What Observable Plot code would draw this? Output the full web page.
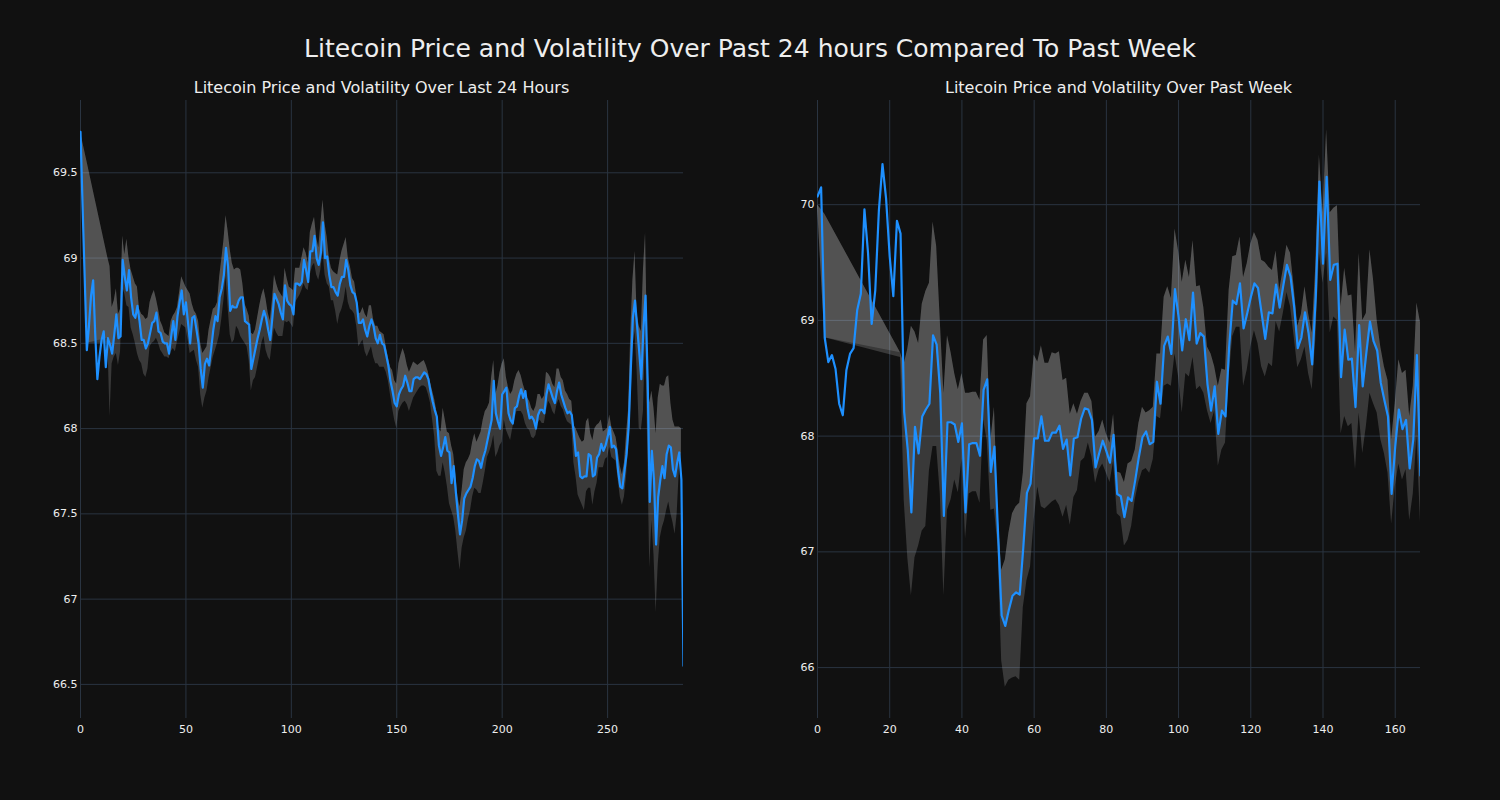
<!DOCTYPE html>
<html><head><meta charset="utf-8">
<script src="https://cdn.jsdelivr.net/npm/d3@7"></script>
<script src="https://cdn.jsdelivr.net/npm/@observablehq/plot@0.6"></script>
<style>
html,body{margin:0;padding:0;background:#111111;}
#wrap{position:relative;width:1500px;height:800px;background:#111111;font-family:"DejaVu Sans",sans-serif;color:#eeeeee;overflow:hidden;}
#title{position:absolute;left:0;top:34px;width:1500px;text-align:center;font-size:25px;line-height:30px;white-space:nowrap;}
.sub{position:absolute;top:78px;font-size:16px;line-height:20px;text-align:center;white-space:nowrap;}
.chart{position:absolute;top:80px;}
</style></head>
<body><div id="wrap">
<div id="title"></div>
<div class="sub" id="subL" style="left:80px;width:603px"></div>
<div class="sub" id="subR" style="left:817px;width:603px"></div>
<div class="chart" id="left" style="left:0px"></div>
<div class="chart" id="right" style="left:737px"></div>
</div>
<script>
const mainTitle = "Litecoin Price and Volatility Over Past 24 hours Compared To Past Week";
const leftTitle = "Litecoin Price and Volatility Over Last 24 Hours";
const rightTitle = "Litecoin Price and Volatility Over Past Week";

const xTicksLeft = [0, 50, 100, 150, 200, 250];
const yTicksLeft = [66.5, 67, 67.5, 68, 68.5, 69, 69.5];
const xTicksRight = [0, 20, 40, 60, 80, 100, 120, 140, 160];
const yTicksRight = [66, 67, 68, 69, 70];

// Last 24 hours (5-minute steps)
const priceLeft = [
69.74,69.3,68.88,68.46,68.6,68.78,68.87,68.55,68.29,68.42,
68.52,68.57,68.36,68.53,68.49,68.44,68.55,68.67,68.53,68.54,
68.99,68.89,68.81,68.93,68.77,68.67,68.65,68.72,68.63,68.52,
68.52,68.47,68.5,68.56,68.62,68.63,68.68,68.57,68.56,68.51,
68.5,68.5,68.44,68.54,68.63,68.52,68.66,68.74,68.81,68.67,
68.74,68.62,68.5,68.65,68.66,68.58,68.5,68.35,68.24,68.38,
68.41,68.37,68.47,68.58,68.66,68.63,68.77,68.82,68.9,69.06,
68.95,68.69,68.72,68.71,68.71,68.75,68.77,68.77,68.63,68.62,
68.61,68.35,68.41,68.47,68.53,68.58,68.64,68.69,68.65,68.58,
68.52,68.65,68.79,68.76,68.73,68.68,68.64,68.84,68.75,68.73,
68.72,68.67,68.85,68.85,68.84,68.86,68.99,68.93,68.86,69.04,
69.04,69.13,69.0,68.96,69.03,69.21,69.0,69.01,68.9,68.83,
68.83,68.8,68.78,68.85,68.89,68.89,68.99,68.93,68.84,68.8,
68.79,68.74,68.62,68.62,68.64,68.58,68.54,68.6,68.64,68.6,
68.53,68.5,68.55,68.5,68.49,68.43,68.37,68.28,68.22,68.15,
68.13,68.2,68.23,68.25,68.31,68.27,68.22,68.22,68.29,68.3,
68.3,68.29,68.31,68.33,68.32,68.29,68.22,68.16,68.11,68.07,
67.9,67.84,67.89,67.95,67.87,67.86,67.68,67.78,67.63,67.5,
67.38,67.46,67.59,67.62,67.64,67.66,67.71,67.78,67.82,67.81,
67.77,67.83,67.87,67.93,67.99,68.05,68.28,68.09,68.04,68.0,
68.2,68.22,68.24,68.09,68.05,68.03,68.12,68.13,68.19,68.23,
68.18,68.22,68.12,68.06,68.07,68.05,68.0,68.08,68.11,68.11,
68.09,68.2,68.26,68.22,68.18,68.15,68.22,68.27,68.2,68.16,
68.12,68.09,68.1,68.08,67.97,67.84,67.86,67.72,67.71,67.72,
67.72,67.85,67.84,67.72,67.73,67.83,67.85,67.91,67.87,67.9,
67.95,68.01,67.89,67.9,67.88,67.75,67.66,67.65,67.75,67.85,
68.01,68.35,68.65,68.75,68.6,68.45,68.29,68.59,68.78,68.28,
67.57,67.87,67.7,67.32,67.6,67.7,67.78,67.71,67.85,67.9,
67.89,67.76,67.72,67.8,67.86,67.7,66.61];

const bandLeftLo = [
69.71,null,null,68.5,null,null,null,null,null,null,
null,null,null,68.5,68.07,68.38,68.42,68.44,68.37,68.45,
68.83,68.79,68.72,68.71,68.59,68.55,68.5,68.44,68.4,68.38,
68.32,68.3,68.35,68.48,68.5,68.51,68.53,68.5,68.46,68.44,
68.42,68.42,68.41,68.45,68.47,68.45,68.51,68.56,68.61,68.6,
68.59,68.52,68.44,68.45,68.46,68.4,68.36,68.2,68.12,68.18,
68.22,68.3,68.36,68.42,68.46,68.5,68.55,68.64,68.75,68.89,
68.71,68.55,68.5,68.52,68.6,68.58,68.54,68.52,68.5,68.48,
68.4,68.22,68.28,68.3,68.36,68.42,68.5,68.54,68.46,68.42,
68.4,68.5,68.59,68.56,68.54,68.54,68.54,68.63,68.62,68.63,
68.61,68.59,68.74,68.76,68.78,68.81,68.85,68.82,68.81,68.9,
68.95,68.97,68.9,68.87,68.93,69.04,68.9,68.85,68.83,68.75,
68.75,68.69,68.61,68.67,68.7,68.75,68.83,68.74,68.7,68.69,
68.67,68.6,68.48,68.5,68.52,68.45,68.42,68.45,68.48,68.42,
68.38,68.38,68.36,68.36,68.36,68.33,68.28,68.2,68.12,68.05,
68.0,68.1,68.13,68.15,68.16,68.14,68.1,68.14,68.18,68.2,
68.22,68.24,68.25,68.25,68.24,68.2,68.15,68.05,67.95,67.75,
67.72,67.72,67.8,67.74,67.66,67.56,67.52,67.48,67.4,67.28,
67.17,67.3,67.36,67.4,67.47,67.52,67.6,67.65,67.64,67.62,
67.62,67.68,67.75,67.83,67.86,67.9,67.96,67.83,67.86,67.9,
67.92,68.05,67.99,67.96,67.93,68.0,68.05,68.1,68.1,68.1,
68.08,68.03,68.0,67.99,67.95,67.94,67.96,68.03,68.05,68.03,
68.03,68.1,68.16,68.14,68.1,68.08,68.14,68.17,68.13,68.11,
68.07,68.04,68.03,68.02,67.8,67.72,67.61,67.58,67.55,67.52,
67.63,67.65,67.65,67.55,67.63,67.68,67.77,67.77,67.77,67.82,
67.83,67.89,67.83,67.82,67.81,67.7,67.6,67.55,67.6,67.72,
67.91,68.12,68.48,68.57,68.34,68.0,67.99,68.1,68.54,67.89,
67.18,67.46,67.26,66.92,67.2,67.36,67.42,67.46,67.52,67.57,
67.5,67.45,67.38,67.5,67.75,67.85,null];

const bandLeftHi = [
69.74,null,null,69.57,null,null,null,null,null,null,
null,null,null,69.0,68.95,68.71,68.75,68.82,68.67,68.7,
69.13,69.02,69.11,69.0,68.93,68.89,68.85,68.83,68.7,68.67,
68.66,68.64,68.65,68.74,68.78,68.81,68.76,68.7,68.63,68.6,
68.56,68.55,68.54,68.63,68.66,68.68,68.71,68.8,68.89,68.86,
68.83,68.81,68.79,68.73,68.69,68.67,68.63,68.5,68.44,68.46,
68.48,68.58,68.64,68.7,68.71,68.74,68.89,68.99,69.1,69.25,
69.16,69.05,68.97,68.93,68.94,68.94,68.93,68.85,68.73,68.7,
68.66,68.56,68.55,68.58,68.65,68.72,68.78,68.82,68.76,68.68,
68.63,68.75,68.9,68.85,68.81,68.79,68.77,68.94,68.88,68.83,
68.82,68.81,68.94,68.94,68.94,69.0,69.06,69.03,68.97,69.15,
69.2,69.24,69.12,69.06,69.2,69.34,69.2,69.12,69.0,68.94,
68.92,68.91,68.9,68.98,69.04,69.08,69.12,69.0,68.95,68.88,
68.86,68.78,68.67,68.68,68.71,68.67,68.65,68.72,68.72,68.64,
68.6,68.6,68.57,68.56,68.55,68.48,68.42,68.36,68.34,68.28,
68.26,68.38,68.43,68.47,68.43,68.37,68.33,68.36,68.39,68.38,
68.37,68.38,68.39,68.4,68.37,68.33,68.27,68.22,68.17,68.1,
68.0,67.98,68.12,68.05,67.98,67.97,67.9,67.85,67.73,67.6,
67.54,67.64,67.76,67.8,67.82,67.85,67.92,67.97,67.92,67.95,
67.98,68.05,68.1,68.12,68.15,68.3,68.4,68.2,68.25,68.33,
68.38,68.41,68.3,68.24,68.2,68.22,68.28,68.32,68.34,68.31,
68.26,68.22,68.18,68.16,68.12,68.1,68.13,68.2,68.2,68.17,
68.19,68.33,68.32,68.3,68.26,68.24,68.35,68.35,68.3,68.28,
68.22,68.2,68.17,68.16,68.02,68.0,67.97,67.94,67.92,67.93,
68.04,68.06,67.97,67.93,68.0,68.02,68.03,68.05,67.98,67.99,
68.0,68.08,68.01,67.98,67.95,67.87,67.78,67.73,67.8,67.97,
68.12,68.57,68.87,69.04,68.67,68.6,68.57,68.93,69.15,68.44,
68.15,68.22,68.12,67.97,68.18,68.26,68.25,68.25,68.3,68.31,
68.15,68.05,68.01,68.01,68.01,68.0,null];

// Past week (hourly steps)
const priceRight = [
70.07,70.15,68.85,68.64,68.7,68.58,68.28,68.18,68.57,68.71,
68.76,69.09,69.23,69.96,69.58,68.97,69.26,69.95,70.35,70.05,
69.55,69.21,69.86,69.75,68.21,67.88,67.34,68.08,67.85,68.17,
68.23,68.28,68.87,68.79,68.37,67.31,68.12,68.12,68.1,67.95,
68.11,67.34,67.93,67.94,67.94,67.83,68.4,68.49,67.69,67.91,
67.16,66.45,66.36,66.5,66.62,66.65,66.63,67.04,67.51,67.59,
67.98,67.98,68.17,67.96,67.96,68.03,68.03,68.09,67.89,67.97,
67.66,67.98,67.99,68.15,68.24,68.23,68.14,67.73,67.85,67.96,
67.87,67.77,68.01,67.5,67.48,67.3,67.47,67.44,67.62,67.82,
67.99,68.04,67.93,67.95,68.47,68.28,68.78,68.86,68.71,69.27,
69.03,68.74,69.01,68.83,69.24,68.8,68.89,68.86,68.45,68.22,
68.43,68.02,68.22,68.17,68.77,69.17,69.14,69.32,68.93,69.06,
69.2,69.32,69.28,69.06,68.84,69.07,69.06,69.31,69.11,69.3,
69.48,69.38,69.12,68.76,68.85,69.07,68.89,68.62,69.21,70.2,
69.49,70.24,69.35,69.48,69.49,68.51,68.92,68.66,68.67,68.25,
68.96,68.43,68.72,68.99,68.82,68.74,68.46,68.31,68.17,67.5,
67.91,68.23,68.06,68.14,67.72,67.97,68.7,67.66];

const bandRightLo = [
69.98,null,68.85,null,null,null,null,null,null,null,
null,null,null,null,null,null,null,null,null,null,
null,null,null,68.68,67.45,66.95,66.62,66.95,67.05,67.18,
67.22,67.7,67.91,67.91,67.5,66.62,67.36,67.45,67.62,67.51,
67.8,67.11,67.5,67.52,67.52,67.42,68.14,67.96,67.36,67.37,
67.04,66.06,65.83,65.89,65.91,65.92,65.89,66.52,66.75,66.87,
67.27,67.56,67.39,67.37,67.4,67.43,67.45,67.4,67.3,67.4,
67.23,67.47,67.53,67.78,67.81,67.94,67.82,67.59,67.71,67.76,
67.68,67.6,67.78,67.33,67.3,67.05,67.1,67.22,67.45,67.6,
67.7,67.72,67.68,67.8,68.17,68.15,68.43,68.45,68.43,68.71,
68.51,68.2,68.54,68.51,68.68,68.4,68.43,68.37,68.22,68.11,
68.22,67.74,67.88,67.94,68.51,68.86,68.94,68.94,68.43,68.57,
68.77,68.91,68.8,68.6,68.51,68.63,68.6,68.99,68.9,69.06,
69.24,69.12,68.86,68.59,68.66,68.77,68.54,68.4,68.83,69.58,
69.32,69.58,68.89,69.03,69.0,68.02,68.17,68.08,68.11,67.71,
68.2,67.85,68.08,68.37,68.28,68.2,67.97,67.85,67.68,67.24,
67.56,67.76,67.62,67.71,67.27,67.5,68.0,67.25];

const bandRightHi = [
70.0,null,69.92,null,null,null,null,null,null,null,
null,null,null,null,null,null,null,null,null,null,
null,null,null,68.72,68.62,68.75,68.95,68.9,68.8,69.14,
69.25,69.32,69.85,69.64,69.0,68.37,68.87,68.72,68.54,68.4,
68.54,68.37,68.37,68.38,68.38,68.31,68.83,68.87,67.96,68.25,
67.33,66.84,66.93,67.16,67.33,67.39,67.42,67.68,68.28,68.34,
68.7,68.64,68.78,68.63,68.63,68.72,68.71,68.73,68.48,68.5,
68.19,68.28,68.19,68.3,68.37,68.37,68.3,67.99,68.04,68.14,
68.02,67.94,68.19,67.69,67.68,67.6,67.76,67.78,67.88,68.11,
68.25,68.2,68.22,68.25,68.71,68.71,69.2,69.29,69.19,69.79,
69.6,69.33,69.52,69.37,69.69,69.29,69.3,69.11,68.77,68.71,
68.6,68.43,68.58,68.57,69.26,69.55,69.56,69.72,69.37,69.49,
69.66,69.76,69.69,69.52,69.5,69.46,69.43,69.6,69.26,69.44,
69.65,69.58,69.29,68.95,69.05,69.29,69.06,68.89,69.47,70.43,
69.93,70.65,69.93,69.97,69.99,69.12,69.45,69.21,69.22,68.72,
69.58,69.0,69.06,69.61,69.35,69.0,68.77,68.6,68.48,67.97,
68.28,68.66,68.54,68.57,68.17,68.43,69.15,68.98];

document.getElementById("title").textContent = mainTitle;
document.getElementById("subL").textContent = leftTitle;
document.getElementById("subR").textContent = rightTitle;

const GRID = "#2a3441";
const LINE = "#1e90ff";

function makeChart(price, lo, hi, xMax, yDomain, xTicks, yTicks) {
  const rows = price.map((p, i) => ({i, p}));
  const band = price.map((p, i) => {
    if (lo[i] == null || hi[i] == null) return null;
    const mid = Math.max(lo[i], Math.min(hi[i], p));
    return {i, lo: lo[i], hi: hi[i], mid};
  }).filter(d => d != null);
  return Plot.plot({
    width: 720,
    height: 680,
    marginLeft: 80,
    marginRight: 37,
    marginTop: 20,
    marginBottom: 42,
    style: {background: "transparent", color: "#eeeeee", fontFamily: "DejaVu Sans", fontSize: "11px"},
    x: {domain: [0, xMax], ticks: xTicks, tickSize: 0, tickPadding: 7, label: null, tickFormat: d => String(d)},
    y: {domain: yDomain, ticks: yTicks, tickSize: 0, tickPadding: 3, label: null, tickFormat: d => String(d)},
    marks: [
      Plot.gridX(xTicks, {stroke: GRID, strokeOpacity: 1, strokeWidth: 1}),
      Plot.gridY(yTicks, {stroke: GRID, strokeOpacity: 1, strokeWidth: 1}),
      Plot.areaY(band, {x: "i", y1: "lo", y2: "hi", fill: "#ffffff", fillOpacity: 0.17, clip: true}),
      Plot.areaY(band, {x: "i", y1: "mid", y2: "hi", fill: "#ffffff", fillOpacity: 0.13, clip: true}),
      Plot.lineY(rows, {x: "i", y: "p", stroke: LINE, strokeWidth: 2.2, clip: true})
    ]
  });
}

document.getElementById("left").appendChild(
  makeChart(priceLeft, bandLeftLo, bandLeftHi, 286, [66.30, 69.924], xTicksLeft, yTicksLeft));
document.getElementById("right").appendChild(
  makeChart(priceRight, bandRightLo, bandRightHi, 167, [65.56, 70.90], xTicksRight, yTicksRight));
</script>
</body></html>
